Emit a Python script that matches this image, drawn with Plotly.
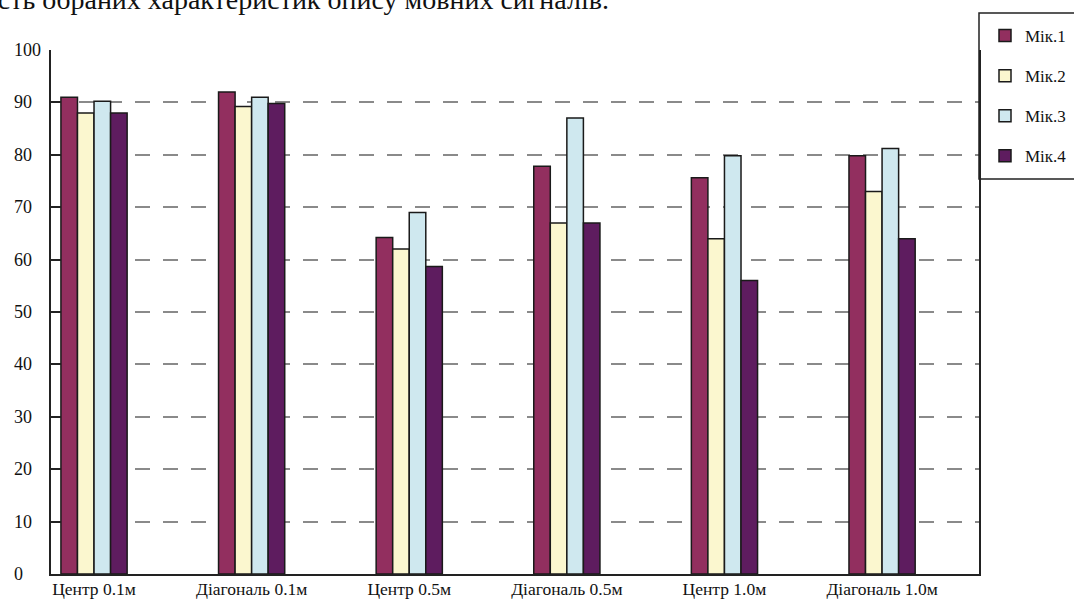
import plotly.graph_objects as go

# Positions / categories
categories = ["Центр 0.1м", "Діагональ 0.1м", "Центр 0.5м",
              "Діагональ 0.5м", "Центр 1.0м", "Діагональ 1.0м"]

# Recognition scores per microphone
mic1 = [91, 92, 64.2, 77.8, 75.6, 79.8]
mic2 = [88, 89.2, 62, 67, 64, 73]
mic3 = [90.2, 91, 69, 87, 79.8, 81.2]
mic4 = [88, 89.8, 58.7, 67, 56, 64]

series_names = ["Мік.1", "Мік.2", "Мік.3", "Мік.4"]
series_values = [mic1, mic2, mic3, mic4]
series_colors = ["#922f5f", "#fbf7cf", "#cfe8ef", "#5e1c5f"]

y_ticks = [0, 10, 20, 30, 40, 50, 60, 70, 80, 90, 100]

caption = "ість обраних характеристик опису мовних сигналів."

SERIF = "Liberation Serif, Times New Roman, serif"

fig = go.Figure()
for i, (name, vals, col) in enumerate(zip(series_names, series_values, series_colors)):
    fig.add_trace(go.Bar(
        x=categories, y=vals, name=name,
        marker=dict(color=col, line=dict(color="#1a1a1a", width=1.5)),
        legendgroup=f"g{i}",
    ))

W, H = 1074, 599
ml, mr, mt, mb = 51, 95, 50, 25
plot_w = W - ml - mr
plot_h = H - mt - mb


def px_x(p):
    return (p - ml) / plot_w


def px_y(p):
    return (H - mb - p) / plot_h


annotations = []
for v in y_ticks:
    annotations.append(dict(
        x=px_x(12), xref="paper", xanchor="left",
        y=v, yref="y", yanchor="middle",
        text=str(v), showarrow=False,
        font=dict(family=SERIF, size=18, color="#111"),
    ))
annotations.append(dict(
    x=px_x(-12), xref="paper", xanchor="left",
    y=px_y(0), yref="paper", yanchor="middle",
    text=caption, showarrow=False,
    font=dict(family=SERIF, size=28, color="#111"),
))

# legend frame, running past the right edge of the page
shapes = [dict(
    type="rect", xref="paper", yref="paper",
    x0=px_x(979), x1=px_x(1090), y0=px_y(179), y1=px_y(13),
    line=dict(color="#222", width=1.5), fillcolor="rgba(0,0,0,0)",
)]

fig.update_layout(
    width=W, height=H,
    margin=dict(l=ml, r=mr, t=mt, b=mb, pad=0, autoexpand=False),
    paper_bgcolor="white", plot_bgcolor="white",
    barmode="group", bargap=0.58, bargroupgap=0,
    showlegend=True,
    legend=dict(
        x=px_x(985), xanchor="left", y=px_y(18), yanchor="top",
        borderwidth=0, bgcolor="rgba(0,0,0,0)",
        font=dict(family=SERIF, size=17, color="#111"),
        traceorder="grouped", tracegroupgap=15,
    ),
    xaxis=dict(
        type="category", range=[-0.273, 5.615], automargin=False,
        showline=True, linecolor="#222", linewidth=1.5,
        ticks="", showgrid=False, ticklabelstandoff=-2,
        tickfont=dict(family=SERIF, size=17.5, color="#111"),
    ),
    yaxis=dict(
        range=[0, 100], tickvals=y_ticks, showticklabels=False,
        automargin=False,
        ticks="inside", ticklen=10, tickwidth=1.5, tickcolor="#222",
        showline=True, linecolor="#222", linewidth=1.5, mirror=True,
        showgrid=True, gridcolor="#8a8a8a", gridwidth=1.5,
        griddash="15px,13px", zeroline=False,
    ),
    annotations=annotations,
    shapes=shapes,
)

fig.write_html("out.html")
